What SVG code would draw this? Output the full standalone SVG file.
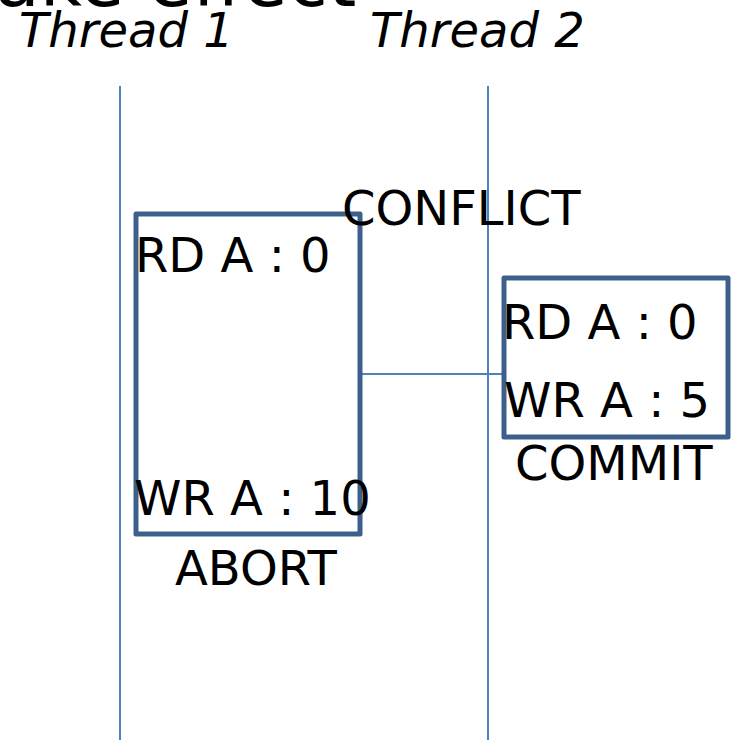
<svg xmlns="http://www.w3.org/2000/svg" width="735" height="740" viewBox="0 0 735 740">
<style>
text{font-family:"DejaVu Sans",sans-serif;fill:#000}
.lbl{font-size:48px}
.th{font-size:48px;font-style:italic}
.box{fill:none;stroke:#3c5f8b;stroke-width:5;stroke-linejoin:round}
.ln{stroke:#4f81bd;stroke-width:2;fill:none}
</style>
<rect width="735" height="740" fill="#fff"/>
<text x="-5" y="6" style="font-size:73px">ake effect</text>
<g id="thread1">
<text class="th" x="19" y="47">Thread 1</text>
</g>
<g id="thread2">
<text class="th" x="370" y="47">Thread 2</text>
</g>
<g id="connectors">
<line class="ln" x1="120" y1="86" x2="120" y2="740"/>
<line class="ln" x1="488" y1="86" x2="488" y2="740"/>
<line class="ln" x1="360" y1="374" x2="504" y2="374"/>
</g>
<g id="tx1">
<rect class="box" x="136" y="214" width="224" height="320"/>
<text class="lbl" x="135" y="272">RD A : 0</text>
<text class="lbl" x="134" y="515">WR A : 10</text>
<text class="lbl" x="175" y="585">ABORT</text>
</g>
<g id="conflict">
<text class="lbl" x="342" y="225">CONFLICT</text>
</g>
<g id="tx2">
<rect class="box" x="504" y="278" width="224" height="159"/>
<text class="lbl" x="502" y="339">RD A : 0</text>
<text class="lbl" x="504" y="417">WR A : 5</text>
<text class="lbl" x="515" y="480">COMMIT</text>
</g>
</svg>
